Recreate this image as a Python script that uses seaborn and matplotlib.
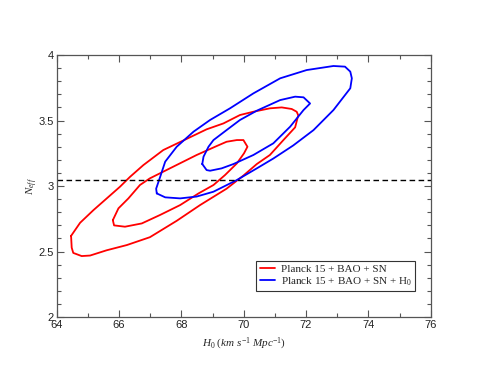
import numpy as np
import pandas as pd
import matplotlib
matplotlib.use('Agg')
import matplotlib.pyplot as plt
import seaborn as sns
from matplotlib.ticker import MultipleLocator, FuncFormatter

# contour outlines (H0, Neff)
red_outer_h0 = [64.46, 64.48, 64.53, 64.80, 65.07, 65.60, 66.25, 66.99, 67.85, 68.60, 69.45, 69.99,
                70.42, 70.84, 71.27, 71.65, 71.75, 71.70, 71.54, 71.22, 70.84, 70.31, 69.88, 69.35,
                68.81, 68.17, 67.42, 66.78, 66.35, 66.03, 65.18, 64.75]
red_outer_neff = [2.62, 2.53, 2.49, 2.466, 2.47, 2.51, 2.55, 2.61, 2.735, 2.855, 2.98, 3.08,
                  3.168, 3.237, 3.35, 3.448, 3.54, 3.567, 3.588, 3.60, 3.593, 3.567, 3.542, 3.478,
                  3.433, 3.36, 3.275, 3.16, 3.07, 2.995, 2.817, 2.72]

red_inner_h0 = [65.80, 65.84, 66.19, 66.73, 67.32, 67.96, 68.55, 69.03, 69.40, 69.78, 70.01, 70.12,
                69.99, 69.78, 69.45, 69.13, 68.49, 67.74, 66.99, 66.67, 66.30, 65.98]
red_inner_neff = [2.74, 2.70, 2.69, 2.715, 2.78, 2.855, 2.944, 3.008, 3.084, 3.173, 3.25, 3.30,
                  3.351, 3.351, 3.338, 3.305, 3.237, 3.148, 3.059, 3.008, 2.906, 2.83]

blue_outer_h0 = [67.21, 67.19, 67.32, 67.48, 67.85, 68.39, 68.92, 69.56, 70.31, 71.17, 72.02, 72.88,
                 73.25, 73.42, 73.47, 73.42, 72.88, 72.24, 71.59, 70.95, 70.42, 69.78, 69.03, 68.49,
                 67.96, 67.48]
blue_outer_neff = [2.944, 2.98, 3.071, 3.186, 3.30, 3.415, 3.504, 3.593, 3.707, 3.822, 3.885, 3.916,
                   3.911, 3.873, 3.822, 3.746, 3.58, 3.427, 3.31, 3.21, 3.135, 3.046, 2.957, 2.92,
                   2.906, 2.914]

blue_inner_h0 = [68.67, 68.81, 68.92, 69.29, 69.67, 70.31, 70.95, 71.49, 71.92, 72.13, 71.92, 71.65,
                 71.17, 70.42, 69.88, 69.45, 69.03, 68.87, 68.71]
blue_inner_neff = [3.168, 3.122, 3.117, 3.135, 3.168, 3.237, 3.326, 3.453, 3.58, 3.63, 3.677, 3.682,
                   3.656, 3.575, 3.504, 3.427, 3.351, 3.30, 3.224]

labels = ['Planck 15 + BAO + SN', r'Planck 15 + BAO + SN + $\mathrm{H_0}$']
neff_std = 3.046

# build one long table, closing each curve
rows = []
for lab, lev, hs, ns in [(labels[0], 'outer', red_outer_h0, red_outer_neff),
                         (labels[0], 'inner', red_inner_h0, red_inner_neff),
                         (labels[1], 'outer', blue_outer_h0, blue_outer_neff),
                         (labels[1], 'inner', blue_inner_h0, blue_inner_neff)]:
    hs = list(hs) + [hs[0]]
    ns = list(ns) + [ns[0]]
    for i, (h, n) in enumerate(zip(hs, ns)):
        rows.append({'H0': h, 'Neff': n, 'data': lab, 'level': lab + lev, 'order': i})
df = pd.DataFrame(rows)

sns.set_style('ticks')
plt.rcParams['font.family'] = ['Liberation Sans', 'DejaVu Sans']
plt.rcParams['mathtext.fontset'] = 'custom'
plt.rcParams['mathtext.rm'] = 'Liberation Serif'
plt.rcParams['mathtext.it'] = 'Liberation Serif:italic'

fig = plt.figure(figsize=(4.85, 3.74), dpi=100)
ax = fig.add_axes([0.117, 0.152, 0.771, 0.701])

sns.lineplot(data=df, x='H0', y='Neff', hue='data', units='level', estimator=None, sort=False,
             palette=['#ff0000', '#0000ff'], linewidth=1.3, ax=ax)
ax.axhline(neff_std, color='black', ls=(0, (4, 2.5)), lw=1.0)

ax.set_xlim(64, 76)
ax.set_ylim(2, 4)
ax.xaxis.set_major_locator(MultipleLocator(2))
ax.xaxis.set_minor_locator(MultipleLocator(1))
ax.yaxis.set_major_locator(MultipleLocator(0.5))
ax.yaxis.set_minor_locator(MultipleLocator(0.1))
ax.yaxis.set_major_formatter(FuncFormatter(lambda v, p: '%g' % v))
ax.tick_params(which='both', direction='in', top=True, right=True, color='#555555',
               labelsize=8, labelcolor='#222222', pad=2)
ax.tick_params(which='major', length=5, width=0.8)
ax.tick_params(which='minor', length=3, width=0.8)
for s in ax.spines.values():
    s.set_color('#555555')
    s.set_linewidth(0.9)

ax.set_xlabel(r'$H_0\ (km\ s^{-1}\ Mpc^{-1})$', fontsize=8, labelpad=4)
ax.set_ylabel(r'$N_{eff}$', fontsize=8, labelpad=-1)

leg = ax.legend(loc='lower right', bbox_to_anchor=(0.958, 0.099), frameon=True, fancybox=False,
                edgecolor='#333333', framealpha=1, prop={'family': 'Liberation Serif', 'size': 8},
                handlelength=1.4, borderpad=0.3, labelspacing=0.1, handletextpad=0.5,
                borderaxespad=0)
leg.get_frame().set_linewidth(0.8)

fig.savefig('out.png', dpi=100)
